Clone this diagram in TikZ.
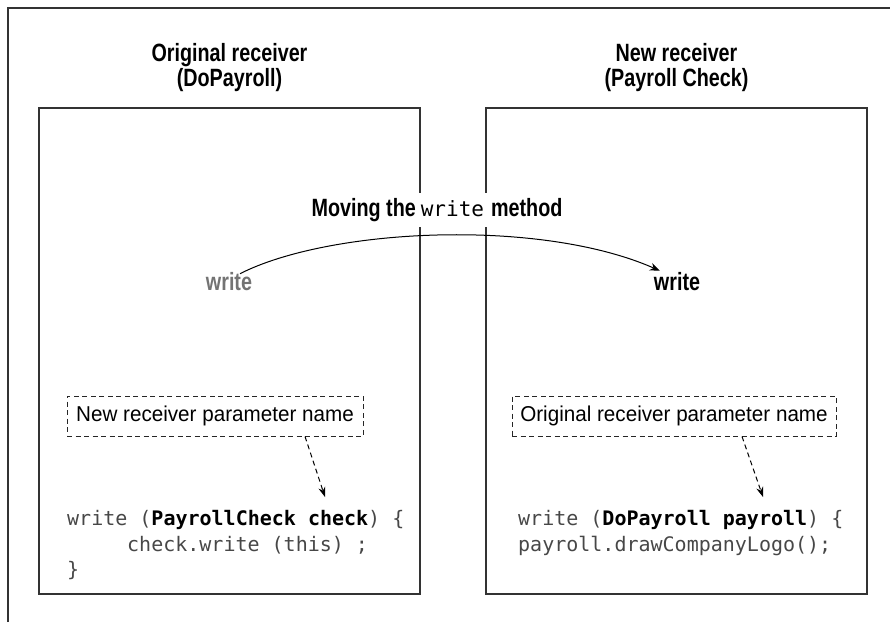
\documentclass[tikz,border=0pt]{standalone}
\usepackage{fontspec}
\setmainfont{Liberation Sans}[FakeStretch=0.96]
\newfontfamily\bcf{Liberation Sans}[FakeStretch=0.79]
\newfontfamily\codef{DejaVu Sans Mono}
\usetikzlibrary{arrows.meta}
\begin{document}
\begin{tikzpicture}[x=1pt,y=-1pt,
  frame/.style={draw=black!80,line width=1.1pt},
  panel/.style={draw=black!80,line width=1.1pt,minimum width=381pt,minimum height=486pt,inner sep=0pt},
  ttl/.style={anchor=base,inner sep=0pt,font=\bcf\bfseries\fontsize{25}{27}\selectfont},
  dbox/.style={draw=black!85,line width=1pt,dash pattern=on 5pt off 3.5pt,minimum height=40pt,inner sep=0pt,font=\fontsize{21.5}{23}\selectfont},
  code/.style={anchor=base west,inner sep=0pt,text=black!72,font=\codef\fontsize{20}{22}\selectfont},
  arr/.style={draw=black,line width=1pt,-{Stealth[length=10pt,width=8pt]}},
  darr/.style={draw=black,line width=1pt,dash pattern=on 5pt off 3.5pt,-{Stealth[length=10pt,width=7pt]}}]
\useasboundingbox (0,0) rectangle (890,622);
% outer frame (top and left only)
\draw[frame] (8,622) -- (8,8) -- (890,8);
% panels
\node[panel] (lp) at (229.5,351) {};
\node[panel] (rp) at (676.5,351) {};
% titles
\node[ttl] (lt1) at (229.5,61) {Original receiver};
\node[ttl] (lt2) at (229.5,86) {(DoPayroll)};
\node[ttl] (rt1) at (676.5,61) {New receiver};
\node[ttl] (rt2) at (676.5,86) {(Payroll Check)};
% moving label
\node[anchor=base,fill=white,inner xsep=3pt,inner ysep=6pt,text height=17pt,text depth=5pt] (mv) at (437,216)
  {{\bcf\bfseries\fontsize{25}{27}\selectfont Moving the}\hspace{5pt}{\codef\fontsize{21}{23}\selectfont write}\hspace{7pt}{\bcf\bfseries\fontsize{25}{27}\selectfont method}};
% write labels
\node[ttl,text=black!55] (wl) at (229,290) {write};
\node[ttl] (wr) at (677,290) {write};
\draw[arr] ([xshift=11pt,yshift=-2pt]wl.north) .. controls (330,228) and (540,218) .. ([xshift=6pt,yshift=1pt]wr.north west);
% dashed boxes
\node[dbox,minimum width=296pt] (ln) at (215,416) {New receiver parameter name};
\node[dbox,minimum width=324pt] (rn) at (674,416) {Original receiver parameter name};
\coordinate (lc) at (325,497);
\coordinate (rc) at (763,497);
\draw[darr] ([xshift=90pt]ln.south) -- (lc);
\draw[darr] ([xshift=68pt]rn.south) -- (rc);
% code
\node[code] (lc1) at (67,525) {write ({\bfseries\color{black}PayrollCheck check}) \{};
\node[code] (lc2) at (127,551) {check.write (this) ;};
\node[code] (lc3) at (67,576) {\}};
\node[code] (rc1) at (518,525) {write ({\bfseries\color{black}DoPayroll payroll}) \{};
\node[code] (rc2) at (518,551) {payroll.drawCompanyLogo();};
\end{tikzpicture}
\end{document}
